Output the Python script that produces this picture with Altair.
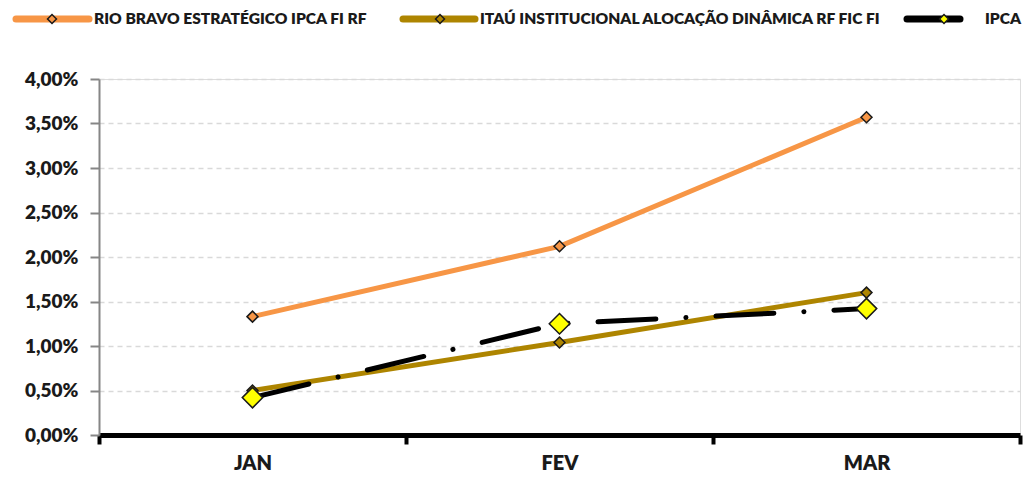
import altair as alt
import pandas as pd

months = ["JAN", "FEV", "MAR"]
series_names = [
    "RIO BRAVO ESTRATÉGICO IPCA FI RF",
    "ITAÚ INSTITUCIONAL ALOCAÇÃO DINÂMICA RF FIC FI",
    "IPCA",
]
rio = [0.0133, 0.0212, 0.0357]
itau = [0.0050, 0.0104, 0.0160]
ipca = [0.0042, 0.0125, 0.0142]
y_ticks = [0, 0.005, 0.01, 0.015, 0.02, 0.025, 0.03, 0.035, 0.04]

line_colors = ["#F79646", "#AE8500", "#000000"]
marker_fill = ["#F79646", "#AE8500", "#FFFF00"]

rows = []
for name, vals in zip(series_names, [rio, itau, ipca]):
    for m, v in zip(months, vals):
        rows.append({"month": m, "series": name, "value": v})
df = pd.DataFrame(rows)

FONT = "Lato"
WEIGHT = 800

x_enc = alt.X(
    "month:N",
    sort=months,
    bandPosition=0.5,
    scale=alt.Scale(type="band", paddingInner=0, paddingOuter=0),
    axis=alt.Axis(
        title=None,
        labelAngle=0,
        labelFont=FONT,
        labelFontSize=20,
        labelFontWeight=WEIGHT,
        labelColor="#1a1a1a",
        labelPadding=9,
        domainColor="#000000",
        domainWidth=5,
        tickColor="#000000",
        tickWidth=4,
        tickSize=9,
        tickBand="extent",
        grid=False,
    ),
)
y_enc = alt.Y(
    "value:Q",
    scale=alt.Scale(domain=[0, 0.04], nice=False, zero=True),
    axis=alt.Axis(
        title=None,
        values=y_ticks,
        labelExpr="replace(format(datum.value, '.2%'), '.', ',')",
        labelFont=FONT,
        labelFontSize=19,
        labelFontWeight=WEIGHT,
        labelColor="#1a1a1a",
        labelPadding=12,
        domainColor="#868686",
        domainWidth=2,
        tickColor="#868686",
        tickWidth=2,
        tickSize=9,
        grid=True,
        gridColor="#D9D9D9",
        gridDash=[5, 4],
        gridWidth=1.5,
    ),
)

layers = []
for i, name in enumerate(series_names):
    base = alt.Chart(df).transform_filter(alt.datum.series == name)
    if i == 2:
        line = base.mark_line(
            color=line_colors[i], strokeWidth=5, strokeCap="round",
            strokeDash=[58, 30, 0.1, 30],
        )
        pt = base.mark_point(
            shape="diamond", size=420, filled=True, fill=marker_fill[i],
            stroke="#1a1a1a", strokeWidth=1.5, opacity=1,
        )
    else:
        line = base.mark_line(color=line_colors[i], strokeWidth=5, strokeCap="round")
        pt = base.mark_point(
            shape="diamond", size=120, filled=True, fill=marker_fill[i],
            stroke="#1a1a1a", strokeWidth=1.5, opacity=1,
        )
    layers.append(line.encode(x=x_enc, y=y_enc))
    layers.append(pt.encode(x=x_enc, y=y_enc))

# legend
one = pd.DataFrame({"a": [0]})
leg_y = -60
leg_items = [(-83, -10, -47, -5), (304, 376, 341, 381), (808, 861, 845, 886)]
for i, (x0, x1, xd, xt) in enumerate(leg_items):
    layers.append(
        alt.Chart(one).mark_rule(color=line_colors[i], strokeWidth=7, strokeCap="round").encode(
            x=alt.value(x0), x2=alt.value(x1), y=alt.value(leg_y)
        )
    )
    layers.append(
        alt.Chart(one).mark_point(
            shape="diamond", size=80, filled=True, fill=marker_fill[i],
            stroke="#1a1a1a", strokeWidth=1.5, opacity=1,
        ).encode(x=alt.value(xd), y=alt.value(leg_y))
    )
    layers.append(
        alt.Chart(one).mark_text(
            align="left", baseline="middle", font=FONT, fontSize=15.6,
            fontWeight=WEIGHT, color="#1a1a1a",
        ).encode(x=alt.value(xt), y=alt.value(leg_y), text=alt.value(series_names[i]))
    )

chart = (
    alt.layer(*layers)
    .properties(
        width=921,
        height=356,
        autosize="none",
        padding={"left": 91, "top": 71, "right": 6, "bottom": 38},
    )
    .configure_view(stroke=None)
    .configure(background="white")
)

chart.save("out.html", embed_options={"renderer": "svg", "actions": False})
